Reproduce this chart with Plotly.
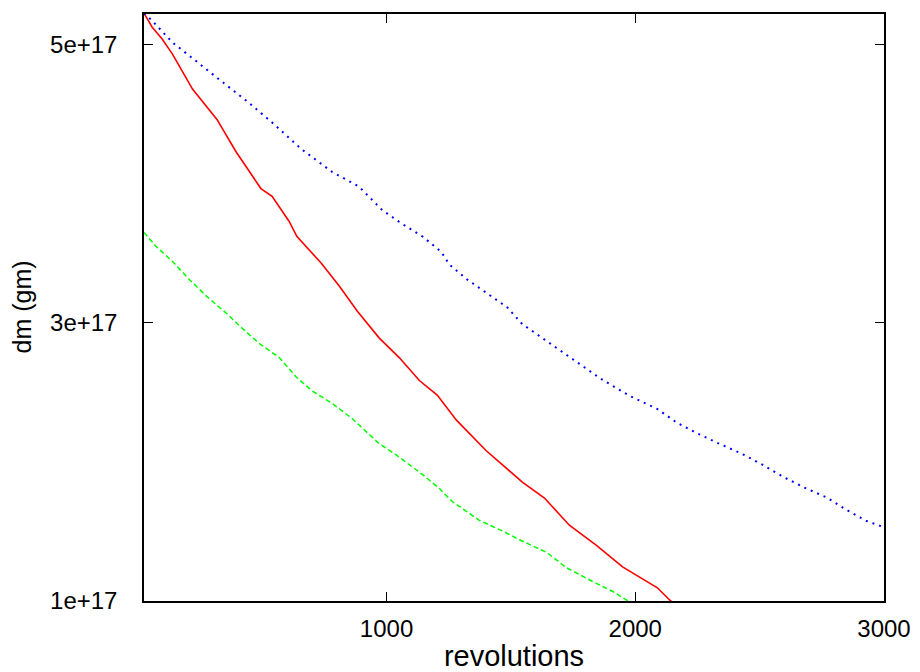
import plotly.graph_objects as go

# units: y values in 1e17 gm
red_x = [25, 58, 98, 140, 220, 319, 395, 495, 540, 580, 608, 640, 737, 810, 882, 971, 1051,
         1132, 1204, 1281, 1401, 1546, 1635, 1735, 1844, 1949, 2045, 2089, 2133, 2150]
red_y = [5.225, 5.125, 5.04, 4.93, 4.68, 4.46, 4.23, 3.965, 3.91, 3.80, 3.73, 3.62, 3.43, 3.265,
         3.085, 2.89, 2.75, 2.585, 2.48, 2.30, 2.08, 1.855, 1.74, 1.545, 1.40, 1.245, 1.14,
         1.095, 1.016, 0.99]

blue_x = [25, 53, 140, 240, 341, 441, 540, 657, 781, 889, 983, 1064, 1145, 1220, 1252, 1325,
          1405, 1486, 1546, 1627, 1683, 1864, 1977, 2089, 2169, 2250, 2338, 2427, 2511, 2592,
          2680, 2769, 2849, 2930, 3000]
blue_y = [5.225, 5.18, 5.015, 4.87, 4.73, 4.59, 4.44, 4.25, 4.085, 3.98, 3.81, 3.71, 3.62, 3.51,
          3.42, 3.31, 3.21, 3.11, 2.99, 2.89, 2.82, 2.595, 2.475, 2.38, 2.28, 2.205, 2.13, 2.06,
          1.98, 1.895, 1.815, 1.745, 1.655, 1.575, 1.53]

green_x = [25, 73, 140, 208, 277, 355, 420, 489, 569, 637, 701, 782, 863, 971, 1039, 1144, 1212,
           1264, 1373, 1482, 1534, 1643, 1723, 1828, 1908, 1964, 1980]
green_y = [3.65, 3.55, 3.44, 3.31, 3.19, 3.07, 2.96, 2.85, 2.75, 2.61, 2.51, 2.42, 2.31, 2.13,
           2.05, 1.91, 1.81, 1.715, 1.58, 1.49, 1.44, 1.35, 1.24, 1.14, 1.07, 1.01, 0.99]

x_ticks = [1000, 2000, 3000]
y_ticks = [1e17, 3e17, 5e17]
y_tick_labels = ["1e+17", "3e+17", "5e+17"]

SCALE = 1e17

fig = go.Figure()
fig.add_trace(go.Scatter(x=red_x, y=[v * SCALE for v in red_y], mode="lines",
                         line=dict(color="#ff0000", width=1.6), showlegend=False))
fig.add_trace(go.Scatter(x=green_x, y=[v * SCALE for v in green_y], mode="lines",
                         line=dict(color="#00ff00", width=1.5, dash="5px,3px"), showlegend=False))
fig.add_trace(go.Scatter(x=blue_x, y=[v * SCALE for v in blue_y], mode="lines",
                         line=dict(color="#0000ff", width=2, dash="2px,5px"), showlegend=False))

font = dict(family="Liberation Sans, Arial, sans-serif", size=24, color="black")

fig.update_layout(
    width=912, height=664,
    margin=dict(l=136, r=36, t=4, b=71),
    paper_bgcolor="white", plot_bgcolor="white",
    font=font,
    xaxis=dict(range=[25, 3000], tickvals=x_ticks, ticks="inside", ticklen=9, tickwidth=1,
               tickcolor="black", showline=True, linecolor="black", linewidth=1.5,
               mirror="ticks", showgrid=False, zeroline=False, ticklabelstandoff=5,
               title=dict(text="revolutions", standoff=6)),
    yaxis=dict(range=[0.9999e17, 5.22e17], tickvals=y_ticks, ticktext=y_tick_labels,
               ticks="inside", ticklen=9, tickwidth=1, tickcolor="black",
               showline=True, linecolor="black", linewidth=1.5, mirror="ticks",
               showgrid=False, zeroline=False, ticklabelstandoff=20, automargin=False),
    annotations=[dict(text="dm (gm)", xref="paper", yref="paper", x=0, y=0.5,
                      xanchor="center", yanchor="middle", xshift=-123, textangle=-90,
                      showarrow=False, font=dict(family=font["family"], size=25, color="black"))],
)

fig.write_html("out.html")
